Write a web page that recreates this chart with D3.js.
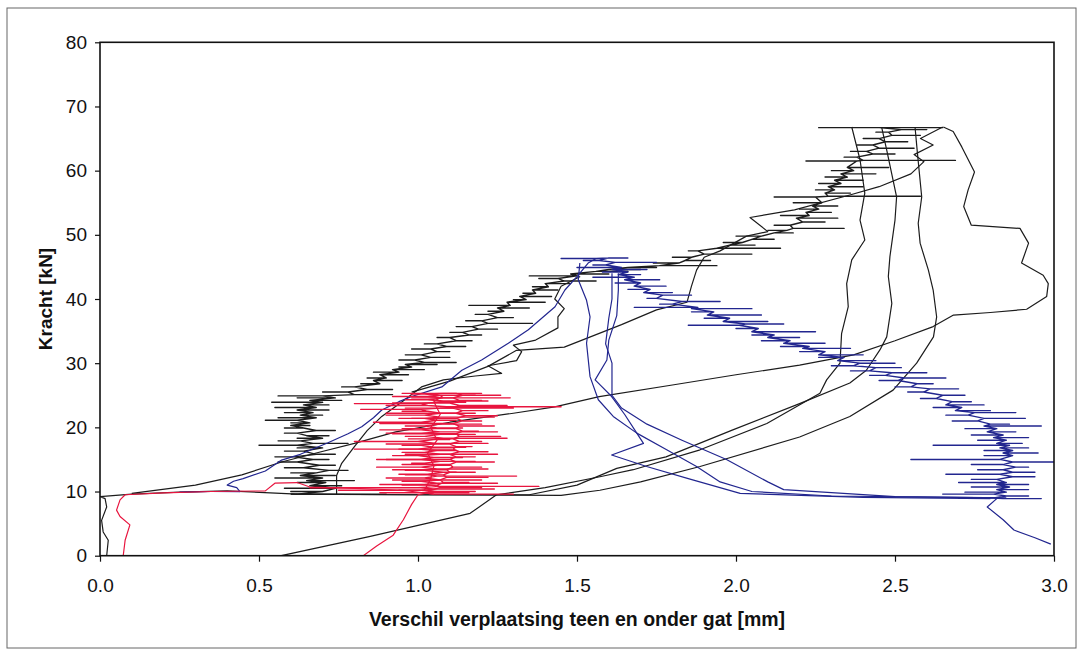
<!DOCTYPE html>
<html><head><meta charset="utf-8">
<script src="https://cdn.jsdelivr.net/npm/d3@7"></script>
<style>
html,body{margin:0;padding:0;background:#fff;}
svg{display:block;}
text{font-family:Arial,"Liberation Sans",sans-serif;fill:#111;}
</style></head>
<body>
<svg id="c" width="1081" height="652"></svg>
<script>
// ---------- data ----------
const xTicks = [0.0, 0.5, 1.0, 1.5, 2.0, 2.5, 3.0];
const yTicks = [0, 10, 20, 30, 40, 50, 60, 70, 80];
const xTitle = "Verschil verplaatsing teen en onder gat [mm]";
const yTitle = "Kracht [kN]";

// smooth curves: [x (mm), F (kN)]
const blackInit = [[0.021,0],[0.026,2.4],[0.01,3.7],[0.005,5.5],[0.021,7.6],[0.016,8.9],[0.0,9.2],[0.1,9.6],[0.25,9.9],[0.4,10.1],[0.62,9.6]];
const blackEdgeJ = [[0.744,9.5],[0.744,12.5],[0.76,14.4],[0.80,17.0],[0.84,19.5],[0.886,21.7],[0.95,24.0],[1.011,26.3],[1.08,27.4],[1.18,28.0],[1.263,28.4],[1.22,29.6],[1.31,30.4],[1.326,31.8],[1.30,32.8],[1.37,33.6],[1.44,35.5],[1.44,37.2],[1.46,38.5],[1.43,40.0],[1.45,42.0],[1.51,43.5]];
const blackEdgeK = [[0.98,25.5],[1.1,27.2],[1.22,29.5],[1.31,32.0],[1.46,32.5],[1.64,36.0],[1.75,38.3],[1.846,39.5],[1.86,42.0],[1.876,44.5],[1.90,46.5],[1.95,47.5],[2.033,49.8],[2.10,50.5],[2.044,52.7],[2.184,53.9],[2.358,56.2],[2.45,57.5],[2.55,59.5],[2.591,61.4],[2.56,62.5],[2.62,64.0],[2.58,65.0],[2.65,66.8]];
const blackReload = [[0.1,9.7],[0.3,11.0],[0.446,12.6],[0.571,14.6],[0.68,16.0],[0.80,17.5],[0.93,19.3],[1.1,20.8],[1.3,22.2],[1.43,23.2],[1.57,24.8],[1.8,26.6],[2.0,28.2],[2.2,29.7],[2.37,31.3],[2.5,33.5],[2.62,35.7],[2.684,37.5],[2.8,37.9],[2.914,38.4],[2.977,40.4],[2.982,42.4],[2.966,43.7],[2.898,45.6],[2.92,48.7],[2.893,51.0],[2.74,51.5],[2.716,54.4],[2.73,57.0],[2.75,59.8],[2.71,63.7],[2.683,66.1],[2.652,66.8]];
const blackUnload1 = [[2.364,66.8],[2.39,61.7],[2.405,56.5],[2.39,52.3],[2.405,49.2],[2.364,46.1],[2.348,42.4],[2.353,38.8],[2.332,34.6],[2.327,30.0],[2.285,27.4],[2.264,25.3],[2.097,20.6],[1.887,16.5],[1.677,13.4],[1.572,12.3],[1.40,10.6],[1.247,9.5],[1.164,6.6],[0.85,3.0],[0.57,0]];
const blackUnload2 = [[2.458,66.8],[2.474,63.2],[2.505,55.9],[2.50,52.3],[2.484,46.6],[2.479,43.5],[2.49,39.3],[2.474,34.1],[2.453,32.1],[2.41,28.9],[2.358,26.9],[2.2,23.7],[1.99,19.6],[1.78,15.4],[1.625,13.6],[1.50,11.0],[1.35,9.5],[1.0,9.5],[0.6,9.6]];
const blackUnload3 = [[2.563,66.8],[2.57,63.0],[2.584,55.9],[2.573,51.8],[2.579,48.7],[2.605,44.5],[2.62,41.4],[2.631,37.2],[2.621,34.1],[2.568,30.0],[2.494,25.8],[2.358,21.7],[2.2,18.5],[1.887,13.9],[1.7,11.5],[1.572,10.2],[1.45,9.4],[0.9,9.5],[0.6,9.6]];

const blueLoad = [[0.25,9.9],[0.35,10.0],[0.44,10.0],[0.43,10.6],[0.40,11.0],[0.42,11.6],[0.45,12.0],[0.52,13.2],[0.571,14.9],[0.63,15.8],[0.717,17.6],[0.78,19.0],[0.823,20.1],[0.86,21.5],[0.886,22.7],[0.94,24.0],[0.98,24.8],[1.075,26.3],[1.138,28.9],[1.20,30.5],[1.284,33.1],[1.347,35.2],[1.431,38.8],[1.462,41.4],[1.50,43.5],[1.535,45.6],[1.56,46.3]];
const blueUnload1 = [[1.509,45.6],[1.504,43.0],[1.53,39.8],[1.541,37.2],[1.53,33.1],[1.541,27.9],[1.567,24.3],[1.614,21.7],[1.688,19.1],[1.782,16.5],[1.876,13.9],[1.95,11.5],[2.05,10.0],[2.3,9.3],[2.83,9.0]];
const blueUnload2 = [[1.63,44.0],[1.63,41.4],[1.625,37.4],[1.60,33.6],[1.594,30.5],[1.557,27.4],[1.575,26.5],[1.609,24.8],[1.65,22.0],[1.688,19.1],[1.709,17.5],[1.609,15.7],[1.719,13.9],[1.85,12.0],[2.013,9.7],[2.4,9.1],[2.8,8.9]];
const blueUnload3 = [[1.61,44.0],[1.61,40.0],[1.60,37.0],[1.59,33.0],[1.61,30.0],[1.61,25.0],[1.64,23.0],[1.72,20.5],[1.83,18.0],[1.97,15.0],[2.10,11.5],[2.15,10.3],[2.5,9.2],[2.85,9.0]];
const blueTail = [[2.82,8.9],[2.79,7.6],[2.84,5.6],[2.874,4.0],[2.94,2.8],[2.99,1.8]];

const redInit = [[0.073,0],[0.079,2.4],[0.094,4.8],[0.063,6.1],[0.052,7.1],[0.063,8.7],[0.079,9.5],[0.2,9.8],[0.35,10.0],[0.52,10.1],[0.55,11.3],[0.62,11.4],[0.66,10.7],[0.80,10.5],[0.95,10.2],[1.05,9.6]];
const redMid = [[1.02,10.2],[1.04,12.0],[1.05,14.0],[1.03,16.0],[1.06,18.0],[1.04,20.0],[1.07,22.0],[1.05,24.0],[1.08,25.0]];
const redDown = [[1.03,9.8],[1.00,9.5],[0.98,8.0],[0.954,5.6],[0.922,3.2],[0.87,1.5],[0.828,0]];

// noisy bands: rows of [F (kN), spine x, spike tip x]
const blackBand = [[9.6,0.62,0.90],[10.0,0.70,0.60],[10.5,0.74,0.58],[10.9,0.66,0.76],[11.4,0.71,0.62],[11.7,0.65,0.80],[12.1,0.70,0.55],[12.5,0.63,0.74],[12.9,0.68,0.60],[13.3,0.72,0.78],[13.7,0.64,0.58],[14.1,0.69,0.74],[14.6,0.62,0.56],[15.0,0.67,0.72],[15.4,0.61,0.55],[15.8,0.68,0.74],[16.3,0.64,0.58],[16.8,0.70,0.62],[17.2,0.62,0.50],[17.5,0.67,0.78],[17.9,0.63,0.56],[18.3,0.70,0.62],[18.7,0.65,0.72],[19.1,0.62,0.58],[19.5,0.68,0.74],[19.9,0.64,0.58],[20.3,0.60,0.66],[20.7,0.66,0.60],[21.1,0.62,0.52],[21.5,0.68,0.56],[21.9,0.63,0.70],[22.3,0.67,0.58],[22.7,0.62,0.72],[23.1,0.68,0.55],[23.5,0.64,0.72],[23.9,0.70,0.54],[24.2,0.66,0.76],[24.6,0.74,0.62],[24.9,0.70,0.56],[25.1,0.80,0.92],[25.5,0.78,0.70],[25.9,0.84,0.92],[26.3,0.80,0.76],[26.8,0.88,0.82],[27.3,0.86,0.95],[27.7,0.90,0.84],[28.2,0.88,0.97],[28.6,0.94,0.86],[29.0,0.92,1.02],[29.4,0.98,0.94],[29.8,0.96,1.06],[30.1,1.02,1.12],[30.5,0.99,0.94],[30.9,1.04,1.10],[31.3,1.01,0.96],[31.8,1.06,1.10],[32.2,1.04,0.98],[32.6,1.09,1.15],[33.0,1.06,1.02],[33.5,1.12,1.17],[34.0,1.10,1.06],[34.4,1.16,1.20],[34.8,1.14,1.10],[35.3,1.19,1.25],[35.7,1.17,1.12],[36.2,1.22,1.36],[36.6,1.20,1.15],[37.1,1.25,1.30],[37.6,1.22,1.18],[38.1,1.27,1.22],[38.6,1.25,1.35],[39.0,1.29,1.16],[39.5,1.28,1.40],[39.9,1.34,1.30],[40.4,1.32,1.42],[40.9,1.37,1.33],[41.4,1.36,1.44],[41.9,1.41,1.36],[42.4,1.40,1.48],[42.8,1.46,1.56],[43.2,1.44,1.38],[43.6,1.50,1.35],[43.9,1.48,1.60],[44.3,1.56,1.66],[44.6,1.60,1.70],[44.9,1.66,1.75],[45.2,1.76,1.94],[45.6,1.82,1.74],[46.0,1.84,1.92],[46.5,1.86,1.80],[47.0,1.90,2.05],[47.5,1.88,1.85],[47.9,1.94,2.14],[48.4,1.98,2.06],[48.8,2.02,1.96],[49.3,2.05,2.12],[49.8,2.08,2.00],[50.3,2.12,2.18],[50.7,2.16,2.10],[51.0,2.18,2.34],[51.5,2.17,2.12],[52.0,2.21,2.28],[52.6,2.19,2.32],[53.0,2.23,2.14],[53.5,2.22,2.30],[54.0,2.26,2.20],[54.5,2.24,2.32],[55.0,2.27,2.18],[55.9,2.25,2.12],[56.0,2.29,2.58],[56.5,2.28,2.36],[57.0,2.31,2.25],[57.5,2.29,2.40],[58.0,2.33,2.26],[58.5,2.31,2.40],[59.0,2.35,2.28],[59.5,2.33,2.44],[60.0,2.37,2.30],[60.5,2.35,2.48],[61.5,2.38,2.22],[61.6,2.40,2.69],[62.1,2.38,2.34],[62.6,2.43,2.50],[63.0,2.41,2.36],[63.5,2.45,2.56],[64.0,2.43,2.38],[64.5,2.47,2.54],[65.0,2.45,2.40],[65.5,2.49,2.58],[66.0,2.48,2.44],[66.4,2.52,2.60],[66.7,2.45,2.26],[66.7,2.45,2.65]];
const blueBand = [[46.3,1.56,1.45],[46.4,1.60,1.66],[46.0,1.57,1.52],[45.7,1.62,1.75],[45.3,1.59,1.55],[44.9,1.64,1.50],[44.6,1.61,1.72],[44.2,1.66,1.58],[43.8,1.63,1.70],[43.4,1.68,1.55],[43.0,1.65,1.76],[42.5,1.70,1.62],[42.0,1.68,1.78],[41.5,1.73,1.66],[41.0,1.71,1.80],[40.6,1.77,1.86],[40.1,1.75,1.72],[39.6,1.83,1.95],[39.2,1.80,1.76],[38.7,1.88,1.68],[38.5,1.86,2.05],[38.0,1.93,1.86],[37.5,1.91,2.08],[37.0,1.98,1.90],[36.5,1.96,2.10],[36.1,2.03,2.15],[35.9,2.01,1.85],[35.4,2.07,2.00],[34.9,2.05,2.25],[34.4,2.12,2.05],[34.0,2.10,2.20],[33.5,2.17,2.08],[33.1,2.15,2.28],[32.6,2.23,2.14],[32.3,2.21,2.36],[31.8,2.28,2.20],[31.3,2.26,2.40],[30.9,2.34,2.26],[30.4,2.32,2.44],[30.0,2.39,2.50],[29.6,2.37,2.30],[29.3,2.44,2.52],[28.8,2.42,2.36],[28.5,2.49,2.60],[28.1,2.47,2.42],[27.7,2.53,2.66],[27.3,2.51,2.45],[26.8,2.57,2.62],[26.3,2.55,2.50],[26.0,2.61,2.70],[25.5,2.59,2.54],[25.0,2.65,2.72],[24.5,2.63,2.58],[24.0,2.68,2.74],[23.5,2.66,2.78],[23.1,2.71,2.62],[22.6,2.69,2.80],[22.3,2.75,2.88],[21.9,2.73,2.66],[21.4,2.78,2.91],[21.0,2.76,2.68],[20.5,2.80,2.86],[20.2,2.78,2.96],[19.8,2.82,2.72],[19.3,2.79,2.88],[18.8,2.84,2.74],[18.4,2.81,2.92],[18.0,2.85,2.76],[17.5,2.82,2.90],[17.2,2.86,2.62],[16.8,2.83,2.92],[16.4,2.87,2.78],[16.0,2.84,2.95],[15.6,2.87,2.78],[15.0,2.83,2.55],[14.6,2.87,3.0],[14.2,2.84,2.74],[13.8,2.88,2.92],[13.4,2.84,2.76],[13.0,2.87,2.94],[12.7,2.83,2.66],[12.3,2.87,2.94],[11.9,2.82,2.74],[11.4,2.85,2.70],[11.1,2.82,2.92],[10.7,2.86,2.74],[10.3,2.82,2.92],[9.9,2.85,2.72],[9.6,2.81,2.65],[9.3,2.85,2.92],[9.0,2.81,2.70],[8.9,2.84,2.96]];
const redBand = [[9.6,1.05,1.30],[9.8,1.02,0.88],[10.0,1.06,1.18],[10.2,1.01,0.75],[10.4,1.05,1.24],[10.6,1.00,0.66],[10.8,1.07,1.38],[11.1,1.02,0.88],[11.3,1.06,1.25],[11.6,1.01,0.95],[11.8,1.07,1.20],[12.1,1.02,0.90],[12.4,1.06,1.31],[12.7,1.03,0.94],[13.0,1.08,1.12],[13.3,1.02,0.96],[13.5,1.06,1.22],[13.8,1.01,0.87],[14.1,1.06,1.10],[14.4,1.02,0.98],[14.7,1.07,1.18],[15.0,1.01,0.87],[15.3,1.05,1.14],[15.6,1.00,0.92],[15.8,1.07,1.25],[16.1,1.02,0.95],[16.4,1.06,1.12],[16.6,1.00,0.80],[16.9,1.05,1.15],[17.2,1.01,0.95],[17.5,1.06,1.22],[17.8,1.00,0.80],[18.1,1.05,1.10],[18.3,1.08,1.28],[18.6,1.02,0.96],[18.9,1.07,1.18],[19.1,1.01,0.90],[19.3,1.07,1.25],[19.6,1.01,0.88],[19.9,1.06,1.14],[20.2,1.02,0.96],[20.5,1.07,1.20],[20.8,1.01,0.86],[21.1,1.06,1.12],[21.4,1.02,0.98],[21.6,1.07,1.24],[21.9,1.02,0.90],[22.2,1.07,1.18],[22.5,1.03,0.95],[22.8,1.01,0.82],[23.0,1.07,1.30],[23.2,1.09,1.45],[23.4,1.03,0.90],[23.7,1.01,0.80],[23.9,1.06,1.15],[24.1,1.08,1.22],[24.3,1.03,0.96],[24.6,1.08,1.29],[24.8,1.03,0.92],[25.0,1.07,1.18],[25.2,1.02,0.98],[25.3,1.08,1.20]];
const redBand2 = [[25.3,1.12,0.95],[25.0,1.14,1.26],[24.6,1.11,0.98],[24.2,1.13,1.20],[23.8,1.10,0.92],[23.4,1.13,1.28],[23.0,1.11,0.96],[22.6,1.14,1.22],[22.2,1.12,0.90],[21.8,1.15,1.25],[21.4,1.12,0.94],[21.0,1.14,1.20],[20.6,1.11,0.88],[20.2,1.13,1.24],[19.8,1.12,0.95],[19.4,1.14,1.19],[19.0,1.12,0.92],[18.6,1.13,1.26],[18.2,1.11,0.97],[17.8,1.13,1.20],[17.4,1.10,0.90],[17.0,1.12,1.17],[16.6,1.11,0.94],[16.2,1.13,1.22],[15.8,1.10,0.96],[15.4,1.12,1.18],[15.0,1.10,0.90],[14.6,1.12,1.24],[14.2,1.10,0.95],[13.8,1.11,1.20],[13.4,1.09,0.92],[13.0,1.10,1.18],[12.6,1.08,0.96],[12.2,1.09,1.22],[11.8,1.07,0.92],[11.4,1.08,1.16],[11.0,1.06,0.95],[10.6,1.07,1.20],[10.2,1.04,0.94],[9.8,1.03,1.16]];

// ---------- drawing ----------
const svg = d3.select("#c");
const M = {left:100, right:1054, top:42.3, bottom:555.7};
const x = d3.scaleLinear().domain([0,3]).range([M.left, M.right]);
const y = d3.scaleLinear().domain([0,80]).range([M.bottom, M.top]);

// outer frame
svg.append("rect").attr("x",7).attr("y",8).attr("width",1069).attr("height",640)
  .attr("fill","none").attr("stroke","#666").attr("stroke-width",1);

svg.append("clipPath").attr("id","plotclip").append("rect")
  .attr("x",M.left).attr("y",M.top).attr("width",M.right-M.left).attr("height",M.bottom-M.top);

const line = d3.line().x(d=>x(d[0])).y(d=>y(d[1]));
// band rows -> spine point, horizontal spike out, back to spine
const bandPts = rows => rows.flatMap(r => [[r[1],r[0]],[r[2],r[0]],[r[1],r[0]]]);
const g = svg.append("g").attr("clip-path","url(#plotclip)");
function draw(arr, color, w){
  arr.forEach(s=>g.append("path").attr("d",line(s)).attr("fill","none")
    .attr("stroke",color).attr("stroke-width",w).attr("stroke-linejoin","round"));
}
const BLACK="#1c1c1c", BLUE="#22268f", RED="#e8153f";
draw([blackInit, blackEdgeJ, blackEdgeK, blackReload, blackUnload1, blackUnload2, blackUnload3], BLACK, 1.2);
draw([bandPts(blackBand)], BLACK, 1.4);
draw([blueLoad, blueUnload1, blueUnload2, blueUnload3, blueTail], BLUE, 1.2);
draw([bandPts(blueBand)], BLUE, 1.4);
draw([redInit, redMid, redDown], RED, 1.2);
draw([bandPts(redBand), bandPts(redBand2)], RED, 1.4);

// axes
const xAxis = d3.axisBottom(x).tickValues(xTicks).tickFormat(d3.format(".1f")).tickSize(6).tickPadding(17);
const yAxis = d3.axisLeft(y).tickValues(yTicks).tickSize(5).tickPadding(8);
const gx = svg.append("g").attr("transform",`translate(0,${M.bottom})`).call(xAxis);
const gy = svg.append("g").attr("transform",`translate(${M.left},0)`).call(yAxis);
[gx,gy].forEach(a=>{
  a.select(".domain").remove();
  a.selectAll(".tick line").attr("stroke","#111").attr("stroke-width",1.2);
  a.selectAll(".tick text").attr("font-size",19).attr("font-family","Arial, 'Liberation Sans', sans-serif").attr("fill","#111");
});

// plot border
svg.append("rect").attr("x",M.left).attr("y",M.top).attr("width",M.right-M.left).attr("height",M.bottom-M.top)
  .attr("fill","none").attr("stroke","#111").attr("stroke-width",1.6);

// titles
svg.append("text").attr("x",(M.left+M.right)/2).attr("y",626).attr("text-anchor","middle")
  .attr("font-size",19.5).attr("font-weight","bold").text(xTitle);
svg.append("text").attr("transform",`translate(52,${(M.top+M.bottom)/2}) rotate(-90)`).attr("text-anchor","middle")
  .attr("font-size",19).attr("font-weight","bold").text(yTitle);
</script>
</body></html>
